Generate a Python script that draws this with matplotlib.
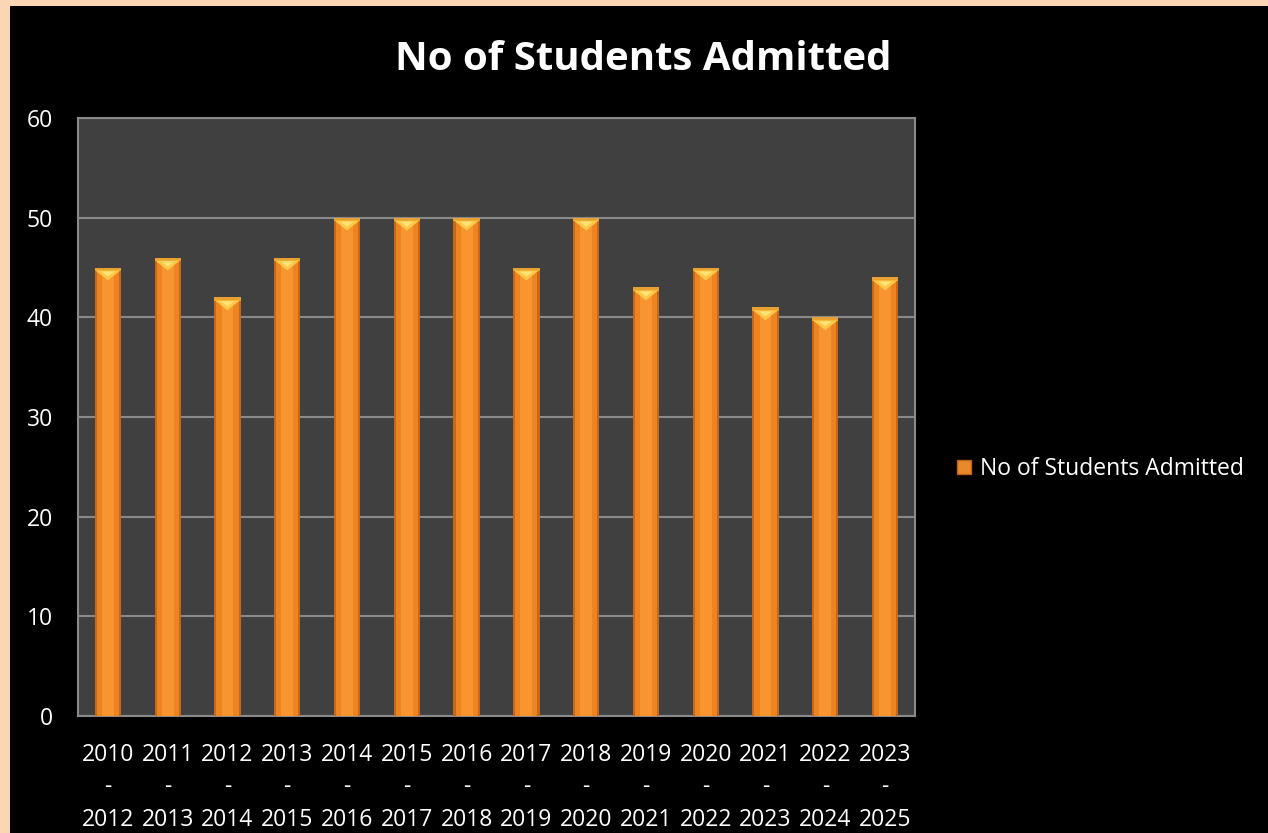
import matplotlib.pyplot as plt
from matplotlib.patches import Patch, Rectangle

plt.rcParams['font.family'] = ['Open Sans', 'DejaVu Sans']

# data
periods = ["2010 - 2012", "2011 - 2013", "2012 - 2014", "2013 - 2015",
           "2014 - 2016", "2015 - 2017", "2016 - 2018", "2017 - 2019",
           "2018 - 2020", "2019 - 2021", "2020 - 2022", "2021 - 2023",
           "2022 - 2024", "2023 - 2025"]
admitted = [45, 46, 42, 46, 50, 50, 50, 45, 50, 43, 45, 41, 40, 44]
y_ticks = [0, 10, 20, 30, 40, 50, 60]
series_name = "No of Students Admitted"

W, H = 1268, 833
fig = plt.figure(figsize=(W / 100, H / 100), dpi=100)
fig.patch.set_facecolor("#FCD5B5")
# black chart area, peach only on left/top edges
fig.add_artist(Rectangle((10 / W, 0), 1, 1 - 6 / H, transform=fig.transFigure,
                         facecolor="black", edgecolor="none", zorder=0))

ax = fig.add_axes([78 / W, 1 - 716 / H, (915 - 78) / W, (716 - 118) / H])
ax.set_facecolor("#404040")
for s in ax.spines.values():
    s.set_color("#8a8a8a")
    s.set_linewidth(1.5)

x = list(range(len(admitted)))
bw = 0.44
# layered bars for a bevelled look
ax.bar(x, admitted, width=bw, color="#C8661A", zorder=3)
ax.bar(x, admitted, width=bw * 0.84, color="#EE8420", zorder=3)
ax.bar(x, admitted, width=bw * 0.45, color="#F89530", zorder=3)
ax.bar(x, [0.35] * len(admitted), bottom=[v - 0.35 for v in admitted],
       width=bw, color="#E8A030", zorder=4)
for xi, v in zip(x, admitted):
    ax.fill([xi - bw * 0.47, xi + bw * 0.47, xi], [v - 0.3, v - 0.3, v - 1.3],
            color="#FFC845", zorder=5, lw=0)
    ax.fill([xi - bw * 0.25, xi + bw * 0.25, xi], [v - 0.4, v - 0.4, v - 0.9],
            color="#FFE27A", zorder=5, lw=0)

ax.set_xlim(-0.5, len(admitted) - 0.5)
ax.set_ylim(0, 60)
ax.set_yticks(y_ticks)
ax.yaxis.grid(True, color="#8a8a8a", linewidth=1.5, zorder=1)
ax.set_axisbelow(True)
ax.set_xticks(x)
ax.set_xticklabels([p.replace(" ", "\n") for p in periods], linespacing=1.46)
ax.tick_params(axis="both", length=0, colors="white", labelsize=16.5)
ax.tick_params(axis="x", pad=19.5)
ax.tick_params(axis="y", pad=18)

fig.text(643 / W, 1 - 59 / H, series_name, ha="center", va="center",
         color="white", fontsize=29, fontweight="bold")

handle = Patch(facecolor="#E88A2A", edgecolor="#B8621A")
fig.legend([handle], [series_name], loc="center left",
           bbox_to_anchor=(936 / W, 1 - 469 / H), frameon=False,
           labelcolor="white", fontsize=16.5, handlelength=0.62,
           handleheight=0.62, handletextpad=0.38)

fig.savefig("out.png", dpi=100, facecolor=fig.get_facecolor())
